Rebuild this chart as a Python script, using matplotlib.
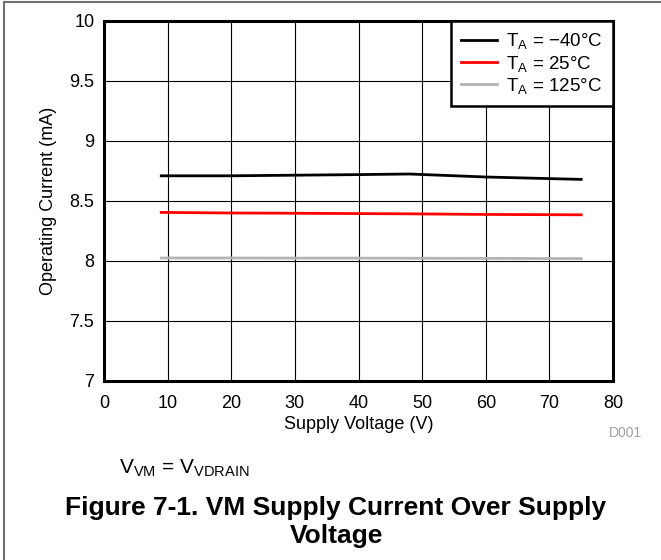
import matplotlib.pyplot as plt
from matplotlib.lines import Line2D

plt.rcParams['font.family'] = ['Liberation Sans', 'DejaVu Sans']
plt.rcParams['mathtext.fontset'] = 'custom'
plt.rcParams['mathtext.rm'] = 'Liberation Sans'

# supply voltage (V) and operating current (mA)
volts = [9, 20, 30, 40, 48, 60, 75]
i_m40 = [8.71, 8.71, 8.715, 8.72, 8.725, 8.70, 8.68]
i_25 = [8.405, 8.40, 8.398, 8.395, 8.393, 8.388, 8.385]
i_125 = [8.025, 8.025, 8.024, 8.024, 8.023, 8.022, 8.02]

labels = ['$\\mathregular{T_A}$ = \u221240\u00b0C', '$\\mathregular{T_A}$ = 25\u00b0C', '$\\mathregular{T_A}$ = 125\u00b0C']
colors = ['black', '#ff0000', '#b3b3b3']

fig = plt.figure(figsize=(6.61, 5.6), dpi=100)
ax = fig.add_axes([104 / 661, 1 - 381 / 560, 509 / 661, 360 / 560])

for ys, c, lab in zip([i_m40, i_25, i_125], colors, labels):
    ax.plot(volts, ys, color=c, lw=2.0, label=lab, zorder=3)

ax.set_xlim(0, 80)
ax.set_ylim(7, 10)
ax.set_xticks(range(0, 81, 10))
ax.set_yticks([7, 7.5, 8, 8.5, 9, 9.5, 10])
ax.set_yticklabels(['7', '7.5', '8', '8.5', '9', '9.5', '10'])
ax.tick_params(length=0, labelsize=13, pad=7)
ax.tick_params(axis='x', pad=10)
ax.grid(True, color='black', lw=0.8)
for s in ax.spines.values():
    s.set_linewidth(2.2)

ax.set_xlabel('Supply Voltage (V)', fontsize=13, labelpad=3)
ax.set_ylabel('Operating Current (mA)', fontsize=13, labelpad=9)

leg = ax.legend(loc='upper right', fontsize=13.5, frameon=True, fancybox=False,
                borderaxespad=0, handlelength=1.9, handletextpad=0.5,
                labelspacing=0.12, borderpad=0.55)
leg.get_frame().set_edgecolor('black')
leg.get_frame().set_linewidth(1.8)
leg.get_frame().set_alpha(1)

fig.text(625 / 661, 1 - 433 / 560, 'D001', fontsize=10, color='#a0a0a0', ha='center', va='center')
fig.text(119 / 661, 1 - 468 / 560, '$\\mathregular{V_{VM}}$ = $\\mathregular{V_{VDRAIN}}$',
         fontsize=15, ha='left', va='center')
fig.text(336 / 661, 1 - 522 / 560, 'Figure 7-1. VM Supply Current Over Supply\nVoltage',
         fontsize=19, fontweight='bold', ha='center', va='center', linespacing=1.2)

# page frame: top and left edges only
fig.add_artist(Line2D([4 / 661, 4 / 661], [0, 1 - 2 / 560], color='#707070', lw=1.5))
fig.add_artist(Line2D([4 / 661, 1], [1 - 2 / 560, 1 - 2 / 560], color='#707070', lw=1.5))

fig.savefig('out.png', dpi=100)
